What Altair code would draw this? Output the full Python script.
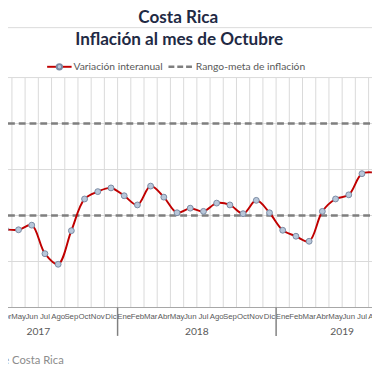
import altair as alt
import pandas as pd

# ---- data (visible part of the original chart) ----
months = ["Abr", "May", "Jun", "Jul", "Ago", "Sep", "Oct", "Nov", "Dic",
          "Ene", "Feb", "Mar", "Abr", "May", "Jun", "Jul", "Ago", "Sep", "Oct", "Nov", "Dic",
          "Ene", "Feb", "Mar", "Abr", "May", "Jun", "Jul", "Ago"]
inflation = [1.70, 1.69, 1.79, 1.17, 0.94, 1.67, 2.36, 2.52, 2.60,
             2.43, 2.23, 2.64, 2.40, 2.06, 2.16, 2.09, 2.27, 2.23, 2.04, 2.33, 2.06,
             1.68, 1.55, 1.44, 2.09, 2.36, 2.45, 2.91, 2.93]
target_band = [2.0, 4.0]
years = ["2017", "2018", "2019"]
year_centers = [2.5, 14.5, 25.5]      # month-index centre of each year group
year_breaks = [8.5, 20.5]             # Dic / Ene boundaries
y_ticks = [0, 1, 2, 3, 4, 5]

idx = list(range(len(months)))
df = pd.DataFrame({"i": idx, "mes": months, "v": inflation})
bounds = pd.DataFrame({"b": [k + 0.5 for k in range(-1, len(months))]})
ydf = pd.DataFrame({"y": target_band})
yr = pd.DataFrame({"c": year_centers, "year": years})
brk = pd.DataFrame({"b": year_breaks})
one = pd.DataFrame({"a": [0]})

W, H = 372, 235
xs = alt.Scale(domain=[0.2037, 27.759], nice=False, zero=False)
ys = alt.Scale(domain=[0, 5], nice=False)
X = lambda f: alt.X(f, scale=xs, axis=None)

GRID = "#d9d9d9"
TXT = "#595959"
NAVY = "#1f2a44"
FONT = "Lato"

vgrid = alt.Chart(bounds).mark_rule(color=GRID, strokeWidth=1).encode(
    x=X("b:Q"), y=alt.value(0), y2=alt.value(H))

hgrid = alt.Chart(pd.DataFrame({"y": y_ticks})).mark_rule(color=GRID, strokeWidth=1).encode(
    x=alt.value(0), x2=alt.value(W), y=alt.Y("y:Q", scale=ys, axis=None))

baseline = alt.Chart(one).mark_rule(color="#a6a6a6", strokeWidth=1).encode(
    x=alt.value(0), x2=alt.value(W), y=alt.value(H))

dashed = alt.Chart(ydf).mark_rule(color="#7f7f7f", strokeWidth=2.5, strokeDash=[7, 4]).encode(
    x=alt.value(0), x2=alt.value(W), y=alt.Y("y:Q", scale=ys, axis=None))

line = alt.Chart(df).mark_line(color="#c00000", strokeWidth=2, interpolate="catmull-rom", clip=True).encode(
    x=X("i:Q"), y=alt.Y("v:Q", scale=ys, axis=None))

pts = alt.Chart(df).mark_point(filled=True, fill="#b8c7da", stroke="#7a8aa3", strokeWidth=1,
                               size=36, opacity=1, clip=True).encode(
    x=X("i:Q"), y=alt.Y("v:Q", scale=ys, axis=None))

mlabels = alt.Chart(df).mark_text(font="Liberation Sans Narrow, Liberation Sans", fontSize=8,
                                  color=TXT, baseline="middle", align="center").encode(
    x=X("i:Q"), y=alt.value(H + 10), text="mes:N")

ylabels = alt.Chart(yr).mark_text(font=FONT, fontSize=10.5, color=TXT, baseline="middle",
                                  align="center").encode(
    x=X("c:Q"), y=alt.value(H + 25), text="year:N")

seps = alt.Chart(brk).mark_rule(color="#808080", strokeWidth=1.5).encode(
    x=X("b:Q"), y=alt.value(H), y2=alt.value(H + 29))

# titles, legend, source
t1 = alt.Chart(one).mark_text(text="Costa Rica", font=FONT, fontSize=17.5, fontWeight="bold",
                              color=NAVY, align="center", baseline="middle").encode(
    x=alt.value(174), y=alt.value(-61))
sepline = alt.Chart(one).mark_rule(color=GRID, strokeWidth=1).encode(
    x=alt.value(-8), x2=alt.value(W), y=alt.value(-51))
t2 = alt.Chart(one).mark_text(text="Inflación al mes de Octubre", font=FONT, fontSize=17.5,
                              fontWeight="bold", color=NAVY, align="center", baseline="middle").encode(
    x=alt.value(175), y=alt.value(-38))

leg_line = alt.Chart(one).mark_rule(color="#c00000", strokeWidth=2).encode(
    x=alt.value(40), x2=alt.value(65), y=alt.value(-11))
leg_pt = alt.Chart(one).mark_point(filled=True, fill="#b8c7da", stroke="#7a8aa3", size=30, opacity=1).encode(
    x=alt.value(52.5), y=alt.value(-11))
leg_t1 = alt.Chart(one).mark_text(text="Variación interanual", font=FONT, fontSize=10.5, color=TXT,
                                  align="left", baseline="middle").encode(
    x=alt.value(67), y=alt.value(-11))
leg_dash = alt.Chart(one).mark_rule(color="#7f7f7f", strokeWidth=2.5, strokeDash=[6, 3]).encode(
    x=alt.value(164), x2=alt.value(189), y=alt.value(-11))
leg_t2 = alt.Chart(one).mark_text(text="Rango-meta de inflación", font=FONT, fontSize=10.5, color=TXT,
                                  align="left", baseline="middle").encode(
    x=alt.value(192), y=alt.value(-11))
source = alt.Chart(one).mark_text(text="Fuente: Banco Central de Costa Rica", font=FONT, fontSize=11.5,
                                  color="#8c8c8c", align="right", baseline="middle").encode(
    x=alt.value(57), y=alt.value(290))

chart = alt.layer(
    vgrid, hgrid, baseline, dashed, line, pts, mlabels, ylabels, seps,
    t1, sepline, t2, leg_line, leg_pt, leg_t1, leg_dash, leg_t2, source
).properties(
    width=W, height=H,
    autosize=alt.AutoSizeParams(type="none"),
    padding={"left": 0, "top": 67, "right": 0, "bottom": 70},
).configure_view(stroke=None)

chart.save("out.html", embed_options={"renderer": "svg", "actions": False})
